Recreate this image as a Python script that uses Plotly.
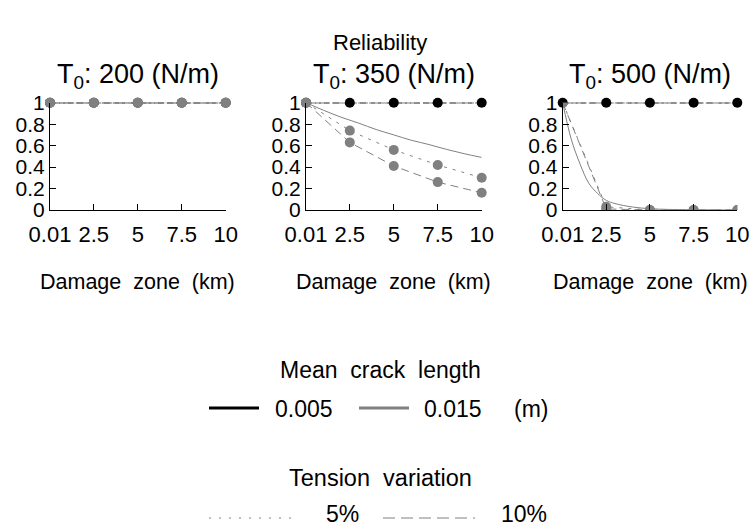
import plotly.graph_objects as go

# ---------------- data ----------------
damage_km = [0.01, 2.5, 5, 7.5, 10]
x_ticks = [0.01, 2.5, 5, 7.5, 10]
x_ticktext = ["0.01", "2.5", "5", "7.5", "10"]
y_ticks = [0, 0.2, 0.4, 0.6, 0.8, 1]
y_ticktext = ["0", "0.2", "0.4", "0.6", "0.8", "1"]

panel_titles = ["T<sub>0</sub>: 200 (N/m)", "T<sub>0</sub>: 350 (N/m)", "T<sub>0</sub>: 500 (N/m)"]

# crack length 0.005 m (black)
black_5 = {200: [1, 1, 1, 1, 1], 350: [1, 1, 1, 1, 1], 500: [1, 1, 1, 1, 1]}
black_10 = {200: [1, 1, 1, 1, 1], 350: [1, 1, 1, 1, 1], 500: [1, 1, 1, 1, 1]}
# crack length 0.015 m (gray)
gray_5 = {200: [1, 1, 1, 1, 1], 350: [1, 0.74, 0.56, 0.42, 0.30], 500: [1, 0.03, 0, 0, 0]}
gray_10 = {200: [1, 1, 1, 1, 1], 350: [1, 0.63, 0.41, 0.26, 0.16], 500: [1, 0.01, 0, 0, 0]}
# smooth (solid) gray reference curves
curve_x = {200: [0.01, 2.5, 5, 7.5, 10],
           350: [0.01, 1, 2, 3, 4, 5, 6, 7, 8, 9, 10],
           500: [0.01, 0.5, 1, 1.5, 2, 2.5, 3, 4, 5, 6, 7.5, 10]}
curve_y = {200: [1, 1, 1, 1, 1],
           350: [1, 0.93, 0.865, 0.81, 0.75, 0.70, 0.65, 0.61, 0.565, 0.525, 0.49],
           500: [1, 0.66, 0.43, 0.25, 0.155, 0.09, 0.06, 0.028, 0.012, 0.006, 0.002, 0.0]}

tensions = [200, 350, 500]

# ---------------- layout constants ----------------
FW, FH = 752, 527
FONT = "Liberation Sans, Arial, sans-serif"
GRAY = "#808080"

def fx(px):
    return px / FW

def fy(py):
    return 1 - py / FH

x_domains = [[fx(50), fx(225.7)], [fx(306), fx(481.7)], [fx(562.7), fx(737.3)]]
y_domain = [fy(210), fy(102.7)]

fig = go.Figure()

for i, T in enumerate(tensions):
    xa = "x" if i == 0 else f"x{i + 1}"
    ya = "y" if i == 0 else f"y{i + 1}"
    # black series
    fig.add_trace(go.Scatter(x=damage_km, y=black_10[T], mode="lines", xaxis=xa, yaxis=ya,
                             line=dict(color="black", width=1.3, dash="10px,3px"),
                             cliponaxis=False, showlegend=False))
    fig.add_trace(go.Scatter(x=damage_km, y=black_5[T], mode="lines+markers", xaxis=xa, yaxis=ya,
                             line=dict(color="black", width=1.3, dash="6px,3px"),
                             marker=dict(color="black", size=10),
                             cliponaxis=False, showlegend=False))
    clip = (T == 500)
    # gray solid curve
    fig.add_trace(go.Scatter(x=curve_x[T], y=curve_y[T], mode="lines", xaxis=xa, yaxis=ya,
                             line=dict(color=GRAY, width=1, shape="spline"),
                             cliponaxis=False, showlegend=False))
    fig.add_trace(go.Scatter(x=damage_km, y=gray_5[T], mode="lines+markers", xaxis=xa, yaxis=ya,
                             line=dict(color=GRAY, width=1, dash="3px,6px"),
                             marker=dict(color=GRAY, size=10),
                             cliponaxis=clip, showlegend=False))
    fig.add_trace(go.Scatter(x=damage_km, y=gray_10[T], mode="lines+markers", xaxis=xa, yaxis=ya,
                             line=dict(color=GRAY, width=1, dash="8px,5px"),
                             marker=dict(color=GRAY, size=10),
                             cliponaxis=clip, showlegend=False))

axis_common = dict(showline=True, linecolor="black", linewidth=1, ticks="inside",
                   ticklen=6, tickcolor="black", showgrid=False, zeroline=False,
                   automargin=False)

layout = dict(width=FW, height=FH, margin=dict(l=0, r=0, t=0, b=0, autoexpand=False),
              paper_bgcolor="white", plot_bgcolor="white",
              font=dict(family=FONT, color="black"))
for i in range(3):
    xk = "xaxis" if i == 0 else f"xaxis{i + 1}"
    yk = "yaxis" if i == 0 else f"yaxis{i + 1}"
    ya = "y" if i == 0 else f"y{i + 1}"
    xa = "x" if i == 0 else f"x{i + 1}"
    layout[xk] = dict(domain=x_domains[i], anchor=ya, range=[0.01, 10],
                      tickvals=x_ticks, ticktext=x_ticktext, ticklabelstandoff=5,
                      tickfont=dict(family=FONT, size=22, color="black"),
                      **axis_common)
    layout[yk] = dict(domain=y_domain, anchor=xa, range=[0, 1],
                      tickvals=y_ticks, ticktext=y_ticktext,
                      tickfont=dict(family=FONT, size=21, color="black"),
                      **axis_common)
fig.update_layout(**layout)

annotations = []
def txt(text, x, y, size=20):
    annotations.append(dict(text=text, x=fx(x), y=fy(y), xref="paper", yref="paper",
                            showarrow=False, xanchor="center", yanchor="middle",
                            font=dict(family=FONT, size=size, color="black")))

txt("Reliability", 380, 43, 22)
for i in range(3):
    cx = (x_domains[i][0] + x_domains[i][1]) / 2 * FW
    txt(panel_titles[i], cx, 76, 27)
    txt("Damage&nbsp; zone&nbsp; (km)", cx, 282, 21.5)

txt("Mean&nbsp; crack&nbsp; length", 380, 370, 23)
txt("0.005", 304, 409, 23)
txt("0.015", 453, 409, 23)
txt("(m)", 531, 409, 23)
txt("Tension&nbsp; variation", 380, 478, 23.5)
txt("5%", 342, 514, 23)
txt("10%", 524, 514, 23)
fig.update_layout(annotations=annotations)

def hline(x0, x1, y, color, width, dash="solid"):
    fig.add_shape(type="line", xref="paper", yref="paper", x0=fx(x0), x1=fx(x1),
                  y0=fy(y), y1=fy(y), line=dict(color=color, width=width, dash=dash))

hline(209, 259, 408, "black", 3)
hline(359, 409, 408, GRAY, 3)
hline(209, 298, 518, GRAY, 1, "2px,8px")
hline(383, 475, 518, GRAY, 1, "12px,6px")

fig.write_html("out.html", config={"displayModeBar": False},
               post_script="document.body.style.margin='0';document.body.style.overflow='hidden';")
